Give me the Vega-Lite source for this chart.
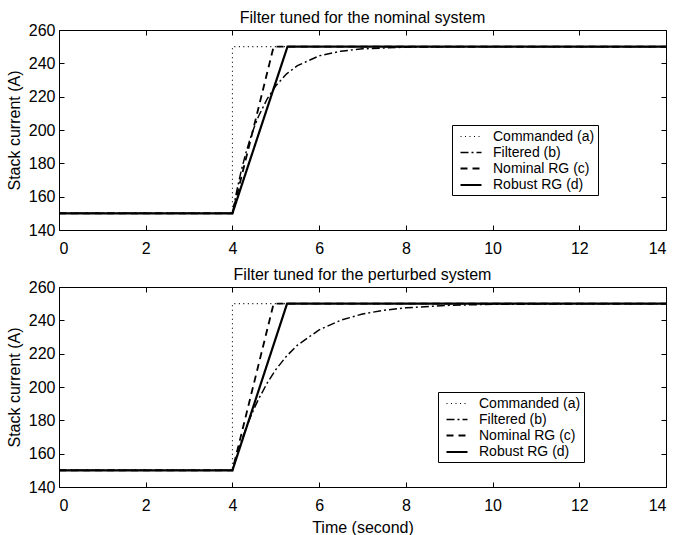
{
  "$schema": "https://vega.github.io/schema/vega-lite/v6.json",
  "padding": {"left": 5, "top": 9, "right": 0, "bottom": 0},
  "spacing": 9,
  "config": {
    "font": "Liberation Sans",
    "view": {"stroke": "black", "strokeWidth": 1},
    "title": {"fontSize": 16, "fontWeight": "normal", "color": "black", "offset": -4},
    "axis": {
      "grid": false, "domain": false, "tickColor": "black", "tickSize": -5,
      "labelColor": "black", "labelFontSize": 16, "titleFontSize": 16,
      "titleFontWeight": "normal", "titleColor": "black"
    },
    "axisX": {"labelPadding": 15},
    "axisY": {"labelPadding": 9},
    "legend": {
      "orient": "none", "title": null, "labelFontSize": 14, "labelColor": "black",
      "strokeColor": "black", "fillColor": "white", "padding": 3, "rowPadding": 0,
      "symbolSize": 225, "symbolType": "M-1.4,0H1.4", "symbolOffset": 7, "labelOffset": 13,
      "symbolStrokeColor": "black"
    }
  },
  "vconcat": [
    {
      "title": "Filter tuned for the nominal system",
      "width": 607, "height": 200,
      "data": {"values": [
        {"series": "Commanded (a)", "t": 0, "v": 150},
        {"series": "Commanded (a)", "t": 4, "v": 150},
        {"series": "Commanded (a)", "t": 4, "v": 250},
        {"series": "Commanded (a)", "t": 14, "v": 250},
        {"series": "Filtered (b)", "t": 0, "v": 150},
        {"series": "Filtered (b)", "t": 4, "v": 150},
        {"series": "Filtered (b)", "t": 4.1, "v": 163.5},
        {"series": "Filtered (b)", "t": 4.2, "v": 175.2},
        {"series": "Filtered (b)", "t": 4.3, "v": 185.3},
        {"series": "Filtered (b)", "t": 4.4, "v": 194.0},
        {"series": "Filtered (b)", "t": 4.5, "v": 201.5},
        {"series": "Filtered (b)", "t": 4.6, "v": 208.1},
        {"series": "Filtered (b)", "t": 4.8, "v": 218.6},
        {"series": "Filtered (b)", "t": 5.0, "v": 226.5},
        {"series": "Filtered (b)", "t": 5.25, "v": 233.7},
        {"series": "Filtered (b)", "t": 5.5, "v": 238.6},
        {"series": "Filtered (b)", "t": 6.0, "v": 244.5},
        {"series": "Filtered (b)", "t": 6.5, "v": 247.3},
        {"series": "Filtered (b)", "t": 7.0, "v": 248.7},
        {"series": "Filtered (b)", "t": 8.0, "v": 249.7},
        {"series": "Filtered (b)", "t": 9.0, "v": 249.9},
        {"series": "Filtered (b)", "t": 14, "v": 250},
        {"series": "Nominal RG (c)", "t": 0, "v": 150},
        {"series": "Nominal RG (c)", "t": 4, "v": 150},
        {"series": "Nominal RG (c)", "t": 4.95, "v": 250},
        {"series": "Nominal RG (c)", "t": 14, "v": 250},
        {"series": "Robust RG (d)", "t": 0, "v": 150},
        {"series": "Robust RG (d)", "t": 4, "v": 150},
        {"series": "Robust RG (d)", "t": 5.27, "v": 250},
        {"series": "Robust RG (d)", "t": 14, "v": 250}
      ]},
      "layer": [
        {
          "mark": {"type": "line", "color": "black", "clip": true},
          "encoding": {
            "x": {"field": "t", "type": "quantitative", "scale": {"domain": [0, 14], "nice": false},
                  "axis": {"values": [0,2,4,6,8,10,12,14], "title": null}},
            "y": {"field": "v", "type": "quantitative", "scale": {"domain": [140, 260], "nice": false, "zero": false},
                  "axis": {"values": [140,160,180,200,220,240,260], "title": "Stack current (A)", "titlePadding": 6}},
            "order": {"value": null},
            "strokeDash": {"field": "series", "type": "nominal",
              "scale": {"domain": ["Commanded (a)", "Filtered (b)", "Nominal RG (c)", "Robust RG (d)"],
                        "range": [[1, 3.5], [8, 3, 2, 3], [7, 5], [1, 0]]},
              "legend": {"legendX": 393, "legendY": 95}},
            "strokeWidth": {"field": "series", "type": "nominal",
              "scale": {"domain": ["Commanded (a)", "Filtered (b)", "Nominal RG (c)", "Robust RG (d)"],
                        "range": [1.1, 2.2, 2.5, 2.3]},
              "legend": {"legendX": 393, "legendY": 95}}
          }
        },
        {
          "mark": {"type": "point", "opacity": 0},
          "encoding": {
            "x": {"field": "t", "type": "quantitative", "axis": {"orient": "top", "values": [0,2,4,6,8,10,12,14], "labels": false, "title": null, "minExtent": 0, "maxExtent": 0}},
            "y": {"field": "v", "type": "quantitative", "axis": {"orient": "right", "values": [140,160,180,200,220,240,260], "labels": false, "title": null, "minExtent": 0, "maxExtent": 0}}
          }
        }
      ],
      "resolve": {"axis": {"x": "independent", "y": "independent"}}
    },
    {
      "title": "Filter tuned for the perturbed system",
      "width": 607, "height": 200,
      "data": {"values": [
        {"series": "Commanded (a)", "t": 0, "v": 150},
        {"series": "Commanded (a)", "t": 4, "v": 150},
        {"series": "Commanded (a)", "t": 4, "v": 250},
        {"series": "Commanded (a)", "t": 14, "v": 250},
        {"series": "Filtered (b)", "t": 0, "v": 150},
        {"series": "Filtered (b)", "t": 4, "v": 150},
        {"series": "Filtered (b)", "t": 4.1, "v": 158.8},
        {"series": "Filtered (b)", "t": 4.2, "v": 166.9},
        {"series": "Filtered (b)", "t": 4.3, "v": 174.3},
        {"series": "Filtered (b)", "t": 4.4, "v": 180.9},
        {"series": "Filtered (b)", "t": 4.5, "v": 187.1},
        {"series": "Filtered (b)", "t": 4.6, "v": 192.6},
        {"series": "Filtered (b)", "t": 4.8, "v": 202.3},
        {"series": "Filtered (b)", "t": 5.0, "v": 210.4},
        {"series": "Filtered (b)", "t": 5.25, "v": 218.6},
        {"series": "Filtered (b)", "t": 5.5, "v": 225.1},
        {"series": "Filtered (b)", "t": 6.0, "v": 234.3},
        {"series": "Filtered (b)", "t": 6.5, "v": 240.1},
        {"series": "Filtered (b)", "t": 7.0, "v": 243.8},
        {"series": "Filtered (b)", "t": 7.5, "v": 246.1},
        {"series": "Filtered (b)", "t": 8.0, "v": 247.5},
        {"series": "Filtered (b)", "t": 9.0, "v": 249.0},
        {"series": "Filtered (b)", "t": 10.0, "v": 249.6},
        {"series": "Filtered (b)", "t": 12.0, "v": 249.9},
        {"series": "Filtered (b)", "t": 14, "v": 250},
        {"series": "Nominal RG (c)", "t": 0, "v": 150},
        {"series": "Nominal RG (c)", "t": 4, "v": 150},
        {"series": "Nominal RG (c)", "t": 4.95, "v": 250},
        {"series": "Nominal RG (c)", "t": 14, "v": 250},
        {"series": "Robust RG (d)", "t": 0, "v": 150},
        {"series": "Robust RG (d)", "t": 4, "v": 150},
        {"series": "Robust RG (d)", "t": 5.26, "v": 250},
        {"series": "Robust RG (d)", "t": 14, "v": 250}
      ]},
      "layer": [
        {
          "mark": {"type": "line", "color": "black", "clip": true},
          "encoding": {
            "x": {"field": "t", "type": "quantitative", "scale": {"domain": [0, 14], "nice": false},
                  "axis": {"values": [0,2,4,6,8,10,12,14], "title": "Time (second)", "titlePadding": 6}},
            "y": {"field": "v", "type": "quantitative", "scale": {"domain": [140, 260], "nice": false, "zero": false},
                  "axis": {"values": [140,160,180,200,220,240,260], "title": "Stack current (A)", "titlePadding": 6}},
            "order": {"value": null},
            "strokeDash": {"field": "series", "type": "nominal",
              "scale": {"domain": ["Commanded (a)", "Filtered (b)", "Nominal RG (c)", "Robust RG (d)"],
                        "range": [[1, 3.5], [8, 3, 2, 3], [7, 5], [1, 0]]},
              "legend": {"legendX": 379, "legendY": 105}},
            "strokeWidth": {"field": "series", "type": "nominal",
              "scale": {"domain": ["Commanded (a)", "Filtered (b)", "Nominal RG (c)", "Robust RG (d)"],
                        "range": [1.1, 2.2, 2.5, 2.3]},
              "legend": {"legendX": 379, "legendY": 105}}
          }
        },
        {
          "mark": {"type": "point", "opacity": 0},
          "encoding": {
            "x": {"field": "t", "type": "quantitative", "axis": {"orient": "top", "values": [0,2,4,6,8,10,12,14], "labels": false, "title": null, "minExtent": 0, "maxExtent": 0}},
            "y": {"field": "v", "type": "quantitative", "axis": {"orient": "right", "values": [140,160,180,200,220,240,260], "labels": false, "title": null, "minExtent": 0, "maxExtent": 0}}
          }
        }
      ],
      "resolve": {"axis": {"x": "independent", "y": "independent"}}
    }
  ],
  "resolve": {"scale": {"strokeDash": "independent", "strokeWidth": "independent"}, "legend": {"strokeDash": "independent", "strokeWidth": "independent"}}
}
